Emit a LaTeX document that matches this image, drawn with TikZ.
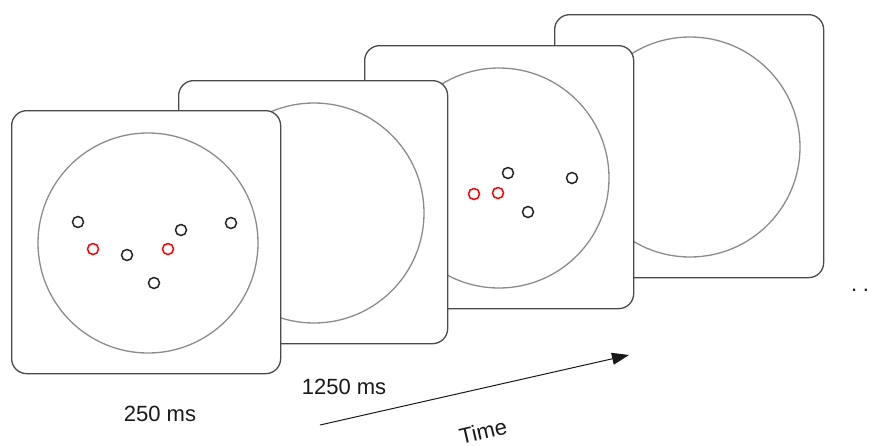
\documentclass[tikz,border=0pt]{standalone}
\usepackage{fontspec}
\setmainfont{Liberation Sans}
\usetikzlibrary{arrows.meta}
\definecolor{boxgray}{HTML}{4A4A4A}
\definecolor{circgray}{HTML}{8C8C8C}
\begin{document}
\begin{tikzpicture}[x=1pt,y=-1pt,
  panel/.style={draw=boxgray, fill=white, rounded corners=15pt, line width=1.3pt,
    minimum width=269pt, minimum height=263pt, inner sep=0pt, anchor=north west},
  disc/.style={circle, draw=circgray, line width=1.3pt, minimum size=220pt, inner sep=0pt},
  bdot/.style={circle, draw=black!85, line width=1.5pt, minimum size=11pt, inner sep=0pt},
  rdot/.style={bdot, draw=red},
  lbl/.style={font=\fontsize{22pt}{24pt}\selectfont, inner sep=0pt, text=black!90}]
\useasboundingbox (0,0) rectangle (870,445);
% panel 4 (back)
\node[panel] (p4) at (554,14) {};
\node[disc] (c4) at (690,147) {};
% panel 3
\node[panel] (p3) at (364,45) {};
\node[disc] (c3) at (499,178) {};
\node[bdot] (d31) at (508,173) {};
\node[bdot] (d32) at (572,178) {};
\node[rdot] (d33) at (474,194) {};
\node[rdot] (d34) at (498,193) {};
\node[bdot] (d35) at (528,212) {};
% panel 2
\node[panel] (p2) at (178,80) {};
\node[disc] (c2) at (314,213) {};
% panel 1 (front)
\node[panel] (p1) at (11,110) {};
\node[disc] (c1) at (148,243) {};
\node[bdot] (d11) at (78,222) {};
\node[bdot] (d12) at (181,230) {};
\node[bdot] (d13) at (231,223) {};
\node[rdot] (d14) at (93,249) {};
\node[bdot] (d15) at (127,255) {};
\node[rdot] (d16) at (168,249) {};
\node[bdot] (d17) at (154,283) {};
% labels
\node[lbl] (l1) at (160,414) {250 ms};
\node[lbl] (l2) at (344,387) {1250 ms};
\node[lbl, rotate=13] (lt) at (483,431) {Time};
\node[lbl, anchor=base] (more) at (860,291) {.\hspace{5.5pt}.};
% time arrow
\coordinate (t0) at (320,425);
\coordinate (t1) at (629,355);
\draw[black!90, line width=1pt, -{Triangle[length=17pt,width=12pt]}] (t0) -- (t1);
\end{tikzpicture}
\end{document}
